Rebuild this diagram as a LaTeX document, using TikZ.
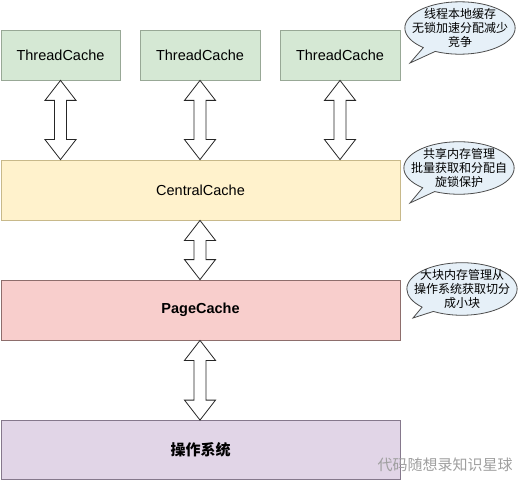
\documentclass[tikz,border=0pt]{standalone}
\usepackage{fontspec}
\setmainfont{Liberation Sans}
\newfontfamily\cjk{Noto Sans CJK SC}
\usetikzlibrary{shapes.callouts, calc}
\definecolor{thrF}{HTML}{D5E8D4}
\definecolor{thrD}{HTML}{98A896}
\definecolor{cenF}{HTML}{FFF2CC}
\definecolor{cenD}{HTML}{C8B98A}
\definecolor{pagF}{HTML}{F8CECC}
\definecolor{pagD}{HTML}{8E6E6C}
\definecolor{osF}{HTML}{E1D5E7}
\definecolor{osD}{HTML}{85788C}
\definecolor{noteF}{HTML}{E6F0F8}
\tikzset{
  layer/.style  = {rectangle, draw=#1D, fill=#1F, line width=0.8pt,
                   inner sep=0pt, font=\fontsize{14.5}{17}\selectfont},
  twoway/.style = {draw=black!85, fill=white, line width=0.8pt, line join=miter},
  note/.style   = {ellipse callout, draw=black!70, fill=noteF, line width=0.8pt,
                   inner xsep=-9pt, inner ysep=-1pt, align=center,
                   font=\cjk\fontsize{12}{14}\selectfont},
  wm/.style     = {font=\cjk\fontsize{15}{17}\selectfont, text=gray!75},
}
% double-headed block arrow between two anchors (top, bottom)
\newcommand{\twowayarrow}[2]{%
  \draw[twoway] let \p1=(#1), \p2=(#2) in
    (\x1,\y1) -- (\x1-15.5pt,\y1-20pt) -- (\x1-6pt,\y1-20pt)
    -- (\x1-6pt,\y2+20pt) -- (\x1-15.5pt,\y2+20pt) -- (\x1,\y2)
    -- (\x1+15.5pt,\y2+20pt) -- (\x1+6pt,\y2+20pt)
    -- (\x1+6pt,\y1-20pt) -- (\x1+15.5pt,\y1-20pt) -- cycle;}

\begin{document}
\begin{tikzpicture}[x=1pt, y=-1pt]
\useasboundingbox (0,0) rectangle (521,481);

% --- per-thread caches ---
\node[layer=thr, minimum width=119pt, minimum height=50pt] (tc1) at (60.5,55)  {ThreadCache};
\node[layer=thr, minimum width=120pt, minimum height=50pt] (tc2) at (200,55)   {ThreadCache};
\node[layer=thr, minimum width=120pt, minimum height=50pt] (tc3) at (340,55)   {ThreadCache};

% --- shared layers ---
\node[layer=cen, minimum width=399pt, minimum height=60pt] (cc) at (200.5,190) {CentralCache};
\node[layer=pag, minimum width=399pt, minimum height=60pt, font=\fontsize{14.5}{17}\selectfont\bfseries]
  (pc) at (200.5,310) {PageCache};
\node[layer=os,  minimum width=399pt, minimum height=59pt, font=\cjk\fontsize{15}{17}\selectfont\bfseries]
  (os) at (200.5,450) {操作系统};

% --- block arrows ---
\twowayarrow{tc1.south}{tc1.south |- cc.north}
\twowayarrow{tc2.south}{tc2.south |- cc.north}
\twowayarrow{tc3.south}{tc3.south |- cc.north}
\twowayarrow{cc.south -| tc2.south}{tc2.south |- pc.north}
\twowayarrow{pc.south -| tc2.south}{tc2.south |- os.north}

% --- notes ---
\node[note, callout absolute pointer={(410,63)}]  (n1) at (460,28)
  {线程本地缓存\\无锁加速分配减少\\竞争};
\node[note, callout absolute pointer={(410,203)}] (n2) at (459,168)
  {共享内存管理\\批量获取和分配自\\旋锁保护};
\node[note, callout absolute pointer={(413,318)}] (n3) at (462,289)
  {大块内存管理从\\操作系统获取切分\\成小块};

\node[wm] (mark) at (445,465) {代码随想录知识星球};

\end{tikzpicture}
\end{document}
